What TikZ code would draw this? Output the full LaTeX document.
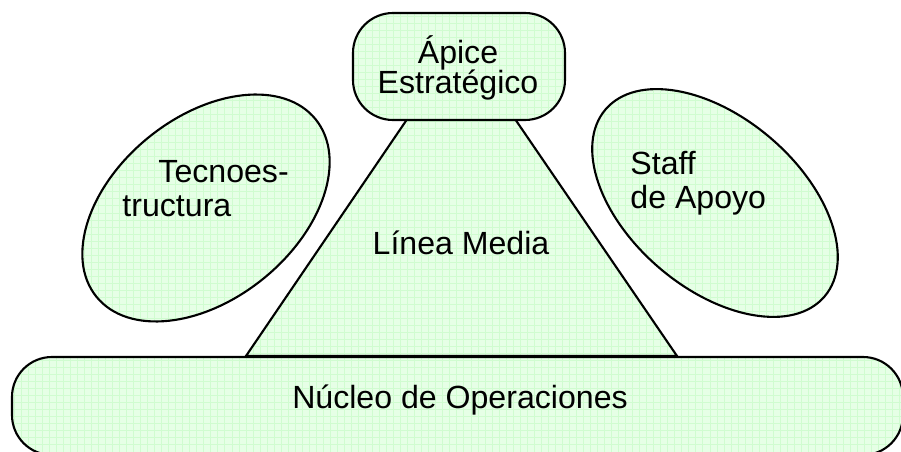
\documentclass[tikz,border=0pt]{standalone}
\usepackage{fontspec}
\setmainfont{Liberation Sans}
\usepackage{tikz}
\usetikzlibrary{shapes.geometric,patterns}
\definecolor{palegreen}{RGB}{230,255,230}
\definecolor{gridgreen}{RGB}{208,252,208}

\begin{document}
\begin{tikzpicture}[
  x=0.015cm,y=-0.015cm,
  font=\fontsize{13.7}{14.9}\selectfont,
  part/.style={draw,line width=0.9pt,preaction={fill=palegreen},pattern=grid,pattern color=gridgreen},
  blob/.style={part,ellipse,inner sep=0pt},
  pill/.style={part,rectangle,rounded corners=0.6cm,inner sep=0pt},
  caption/.style={inner sep=0pt,anchor=base},
  every node/.style={align=center}]

  \path[use as bounding box,clip] (0,0) rectangle (901,452);

  % Position the parts of the organisation
  \coordinate (LMleft) at (246,356);
  \coordinate (LMright) at (677,356);
  \coordinate (LMtop) at (461,40);
  \draw[part] (LMleft) -- (LMtop) -- (LMright) -- cycle;

  \node[pill,minimum width=3.18cm,minimum height=1.605cm] (AE) at (459,66.5) {};
  \node[pill,minimum width=13.365cm,minimum height=1.47cm] (NO) at (457.5,406) {};
  \node[blob,rotate=39,minimum width=4.23cm,minimum height=2.73cm] (TE) at (206,208) {};
  \node[blob,rotate=-40.5,minimum width=4.32cm,minimum height=2.565cm] (SA) at (715,203) {};

  % Texts of the parts (base is the last line)
  \node[caption,font=\fontsize{13.7}{13.2}\selectfont] (AEtext) at (458,94) {Ápice\\Estratégico};
  \node[caption,anchor=base west,align=left] (TEtext) at (122,217) {\hspace*{0.54cm}Tecnoes-\\tructura};
  \node[caption,anchor=base west,align=left] (SAtext) at (630,209) {Staff\\de Apoyo};
  \node[caption] (LMtext) at (461,255) {Línea Media};
  \node[caption] (NOtext) at (460,409) {Núcleo de Operaciones};
\end{tikzpicture}
\end{document}
